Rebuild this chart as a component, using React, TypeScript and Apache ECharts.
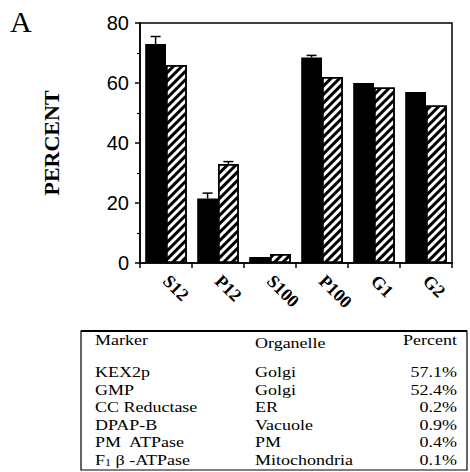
import React, { useEffect, useRef } from 'react';
import * as echarts from 'echarts';

const categories = ['S12', 'P12', 'S100', 'P100', 'G1', 'G2'];
const solidValues = [73, 21.5, 2, 68.5, 60, 57];
const hatchedValues = [66, 33, 3, 62, 58.5, 52.5];
const solidErrorHigh: (number | null)[] = [75.5, 23.3, null, 69.2, null, null];
const hatchedErrorHigh: (number | null)[] = [null, 33.8, null, null, null, null];

const tableHeaders = ['Marker', 'Organelle', 'Percent'];
const markers = ['KEX2p', 'GMP', 'CC Reductase', 'DPAP-B', 'PM  ATPase', 'F{s|1} β -ATPase'];
const organelles = ['Golgi', 'Golgi', 'ER', 'Vacuole', 'PM', 'Mitochondria'];
const percents = ['57.1%', '52.4%', '0.2%', '0.9%', '0.4%', '0.1%'];

const SERIF = '"Liberation Serif", "Times New Roman", serif';
const SANS = '"Liberation Sans", Arial, sans-serif';

export default function App() {
  const ref = useRef<HTMLDivElement>(null);
  useEffect(() => {
    document.body.style.margin = '0';
    const chart = echarts.init(ref.current!, null, { renderer: 'svg' });

    const errData = (highs: (number | null)[], vals: number[]) =>
      highs
        .map((h, i) => (h == null ? null : [i, vals[i], h]))
        .filter((d) => d != null);

    const makeErr = (offsetSign: number) => (params: any, api: any) => {
      const idx = api.value(0);
      const low = api.coord([idx, api.value(1)]);
      const high = api.coord([idx, api.value(2)]);
      const band = api.size([1, 0])[0];
      const x = low[0] + offsetSign * band * 0.2;
      const cap = 5;
      return {
        type: 'group',
        children: [
          { type: 'line', shape: { x1: x, y1: low[1], x2: x, y2: high[1] }, style: { stroke: '#000', lineWidth: 1.5 } },
          { type: 'line', shape: { x1: x - cap, y1: high[1], x2: x + cap, y2: high[1] }, style: { stroke: '#000', lineWidth: 1.5 } },
        ],
      };
    };

    const tableLeft = 81;
    const tableRight = 467;
    const tableTop = 331;
    const tableBottom = 470;
    const col1 = 95;
    const col2 = 255;
    const col3 = 457;
    const headerY = 340;
    const rowY0 = 372;
    const rowStep = 17.6;

    const textStyle = (text: string, x: number, y: number, align: string) => ({
      type: 'text',
      x,
      y,
      scaleX: 1.2,
      style: {
        text,
        font: `15px ${SERIF}`,
        fill: '#000',
        align,
        verticalAlign: 'middle',
        rich: {
          s: { fontSize: 10, fontFamily: SERIF, fill: '#000', padding: [5, 0, 0, 0] },
        },
      },
    });

    const tableGraphics: any[] = [
      {
        type: 'rect',
        shape: { x: tableLeft, y: tableTop, width: tableRight - tableLeft, height: tableBottom - tableTop },
        style: { fill: 'none', stroke: '#000', lineWidth: 1.2 },
      },
      {
        type: 'line',
        shape: { x1: tableLeft, y1: tableTop, x2: tableRight, y2: tableTop },
        style: { stroke: '#000', lineWidth: 2 },
      },
      textStyle(tableHeaders[0], col1, headerY, 'left'),
      textStyle(tableHeaders[1], col2, headerY + 3, 'left'),
      textStyle(tableHeaders[2], col3, headerY, 'right'),
    ];
    markers.forEach((m, i) => {
      const y = rowY0 + i * rowStep;
      tableGraphics.push(textStyle(m, col1, y, 'left'));
      tableGraphics.push(textStyle(organelles[i], col2, y, 'left'));
      tableGraphics.push(textStyle(percents[i], col3, y, 'right'));
    });

    chart.setOption({
      animation: false,
      grid: {
        left: 140,
        right: 18,
        top: 23,
        bottom: 209,
        show: true,
        borderColor: '#000',
        borderWidth: 1.5,
      },
      xAxis: {
        type: 'category',
        data: categories,
        axisLine: { lineStyle: { color: '#000', width: 1.5 } },
        axisTick: { show: true, length: 5, lineStyle: { color: '#000', width: 1.5 } },
        axisLabel: {
          rotate: -45,
          margin: 15,
          color: '#000',
          fontFamily: SERIF,
          fontWeight: 'bold',
          fontSize: 18,
        },
      },
      yAxis: {
        type: 'value',
        min: 0,
        max: 80,
        interval: 20,
        name: 'PERCENT',
        nameLocation: 'middle',
        nameRotate: 90,
        nameGap: 78,
        nameTextStyle: { fontFamily: SERIF, fontWeight: 'bold', fontSize: 22, color: '#000' },
        axisLine: { show: true, lineStyle: { color: '#000', width: 1.5 } },
        axisTick: { show: true, length: 5, lineStyle: { color: '#000', width: 1.5 } },
        minorTick: { show: true, splitNumber: 2, length: 3, lineStyle: { color: '#000', width: 1.2 } },
        splitLine: { show: false },
        axisLabel: { color: '#000', fontFamily: SANS, fontSize: 20, margin: 11 },
      },
      series: [
        {
          type: 'bar',
          data: solidValues,
          barWidth: '40%',
          barGap: '0%',
          itemStyle: { color: '#000' },
        },
        {
          type: 'bar',
          data: hatchedValues,
          barWidth: '40%',
          itemStyle: {
            color: '#fff',
            borderColor: '#000',
            borderWidth: 1.5,
            decal: {
              symbol: 'rect',
              symbolSize: 1,
              color: '#000',
              backgroundColor: '#fff',
              dashArrayX: [1, 0],
              dashArrayY: [2.5, 3],
              rotation: -Math.PI / 4,
            },
          },
        },
        {
          type: 'custom',
          renderItem: makeErr(-1),
          data: errData(solidErrorHigh, solidValues),
          z: 3,
        },
        {
          type: 'custom',
          renderItem: makeErr(1),
          data: errData(hatchedErrorHigh, hatchedValues),
          z: 3,
        },
      ],
      graphic: [
        {
          type: 'text',
          x: 10,
          y: 6,
          style: { text: 'A', font: `30px ${SERIF}`, fill: '#000' },
        },
        ...tableGraphics,
      ],
    });
    return () => chart.dispose();
  }, []);
  return <div ref={ref} style={{ width: 470, height: 472 }} />;
}
